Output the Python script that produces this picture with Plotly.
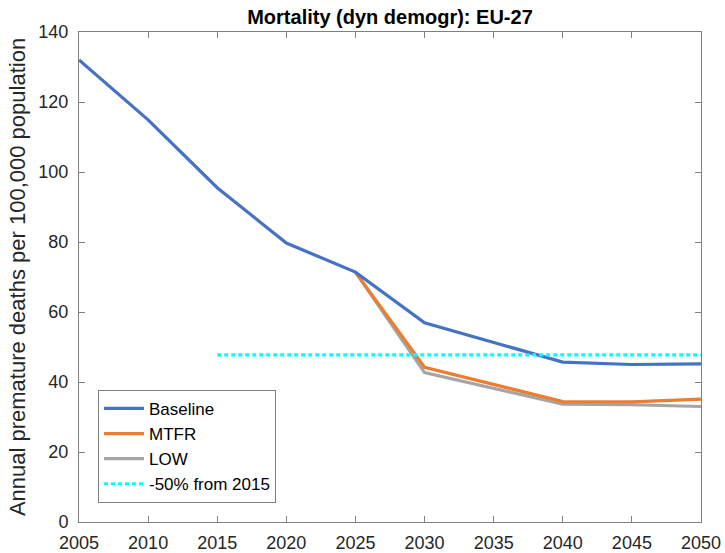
import plotly.graph_objects as go

# Premature deaths per 100,000 population, EU-27
years_base = [2005, 2010, 2015, 2020, 2025, 2030, 2040, 2045, 2050]
baseline = [132.0, 114.9, 95.5, 79.7, 71.4, 56.9, 45.7, 45.0, 45.2]

years_scen = [2025, 2030, 2040, 2045, 2050]
mtfr = [71.4, 44.2, 34.4, 34.3, 35.1]
low = [71.4, 42.7, 33.7, 33.5, 33.0]

# Target line: half of the 2015 baseline value
target_years = [2015, 2050]
target_value = baseline[2] / 2

x_ticks = list(range(2005, 2051, 5))
y_ticks = list(range(0, 141, 20))

FONT = "Liberation Sans, Arial, Helvetica, sans-serif"
TXT = "#262626"
AXC = "#808080"

fig = go.Figure()
fig.add_trace(go.Scatter(x=years_scen, y=low, mode="lines", name="LOW", legendrank=3,
                         line=dict(color="#A5A5A5", width=3.2)))
fig.add_trace(go.Scatter(x=years_scen, y=mtfr, mode="lines", name="MTFR", legendrank=2,
                         line=dict(color="#ED7D31", width=3.2)))
fig.add_trace(go.Scatter(x=years_base, y=baseline, mode="lines", name="Baseline",
                         legendrank=1, line=dict(color="#4472C4", width=3.2)))
fig.add_trace(go.Scatter(x=target_years, y=[target_value] * 2, mode="lines",
                         name="-50% from 2015", legendrank=4,
                         line=dict(color="#00FFFF", width=3.2, dash="4px,3px")))

fig.update_layout(
    width=725, height=553,
    margin=dict(l=79, r=24, t=32, b=31),
    paper_bgcolor="white", plot_bgcolor="white",
    font=dict(family=FONT, size=18, color=TXT),
    title=dict(text="<b>Mortality (dyn demogr): EU-27</b>", x=390 / 725, xanchor="center",
               y=1 - 17 / 553, yanchor="middle", font=dict(size=20, color="black")),
    showlegend=True,
    legend=dict(x=0.0305, y=0.039, xanchor="left", yanchor="bottom",
                bgcolor="white", bordercolor=AXC, borderwidth=1,
                font=dict(size=17, color="black"), tracegroupgap=0,
                itemwidth=40),
)
fig.update_xaxes(range=[2005, 2050], tickvals=x_ticks, ticks="inside", ticklen=6,
                 tickcolor=AXC, showline=True, linecolor=AXC, linewidth=1, mirror="ticks",
                 showgrid=False, zeroline=False, ticklabelstandoff=4, automargin=False,
                 tickfont=dict(size=18, color=TXT))
fig.update_yaxes(range=[0, 140], tickvals=y_ticks, ticks="inside", ticklen=6,
                 tickcolor=AXC, showline=True, linecolor=AXC, linewidth=1, mirror="ticks",
                 showgrid=False, zeroline=False, ticklabelstandoff=6, automargin=False,
                 tickfont=dict(size=18, color=TXT),
                 title=dict(text="Annual premature deaths per 100,000 population",
                            font=dict(size=22, color=TXT), standoff=6))

fig.write_html("out.html")
